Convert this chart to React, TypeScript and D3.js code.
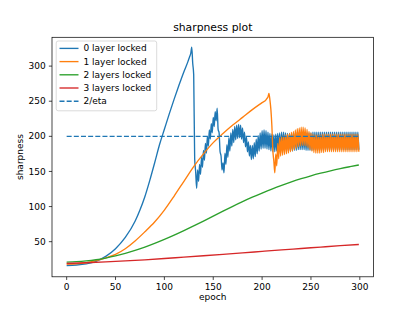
import React from 'react';
import * as d3 from 'd3';

// sharpness per epoch
const blueHead: [number, number][] = [
  [0, 16], [10, 16.8], [20, 18.5], [30, 22], [40, 29], [50, 40], [60, 56], [70, 79],
  [75, 95], [80, 114], [85, 137], [90, 162], [95, 188], [100, 210], [105, 232],
  [110, 253], [115, 273], [120, 292], [124, 306],
];
const BLUE_TAIL_START = 125;
const blueTail = [
  310, 314, 318, 327, 304, 288, 168, 150, 126, 152,
  136, 160, 146, 170, 156, 180, 166, 190, 176, 200,
  186, 209, 196, 218, 205, 227, 214, 235, 222, 240,
  210, 205, 178, 172, 152, 162, 148, 176, 160, 188,
  170, 198, 179, 205, 186, 210, 191, 214, 195, 216,
  197, 217, 198, 216, 196, 212, 191, 206, 185, 199,
  178, 192, 172, 187, 167, 187, 168, 191, 171, 196,
  175, 201, 179, 205, 182, 208, 183, 209, 183, 208,
  182, 206, 181, 204, 179, 203, 178, 202, 178, 203,
  179, 204, 180, 205, 180, 206, 181, 206, 181, 205,
  180, 204, 179, 204, 179, 204, 179, 205, 180, 205,
  180, 206, 181, 206, 181, 206, 181, 206, 181, 205,
  180, 205, 180, 205, 180, 205, 180, 206, 181, 206,
  181, 206, 181, 206, 181, 206, 181, 206, 181, 206,
  181, 206, 181, 206, 181, 206, 181, 206, 181, 206,
  181, 206, 181, 206, 181, 206, 181, 206, 181, 206,
  181, 206, 181, 206, 181, 206, 181, 206, 181, 206,
  181, 206, 181, 206, 181,
];

const orangeHead: [number, number][] = [
  [0, 18], [10, 18.5], [20, 20], [30, 23], [40, 27], [50, 32], [60, 40], [70, 51],
  [80, 64], [90, 78], [100, 95], [110, 115], [120, 136], [130, 157], [140, 175],
  [150, 191], [160, 204], [170, 216], [180, 227], [190, 238], [200, 248], [204, 252],
];
const ORANGE_TAIL_START = 205;
const orangeTail = [
  254, 256, 261, 252, 238, 215, 180, 165, 148, 175,
  158, 190, 168, 198, 172, 200, 173, 201, 174, 202,
  175, 203, 176, 204, 178, 206, 179, 207, 181, 209,
  183, 211, 185, 212, 186, 213, 187, 213, 187, 212,
  186, 210, 184, 207, 181, 205, 179, 203, 177, 202,
  176, 202, 176, 202, 176, 202, 177, 203, 177, 203,
  178, 203, 178, 203, 178, 203, 178, 203, 178, 203,
  178, 203, 178, 203, 178, 203, 178, 203, 178, 203,
  178, 203, 178, 203, 178, 203, 178, 203, 178, 203,
  178, 203, 178, 203, 178,
];

const green: [number, number][] = [
  [0, 21], [10, 21.5], [20, 22.6], [30, 24.3], [40, 26.7], [50, 29.7], [60, 33.3],
  [70, 37.5], [80, 42.3], [90, 47.6], [100, 53.3], [110, 59.4], [120, 65.8],
  [130, 72.5], [140, 79.4], [150, 86.4], [160, 93.5], [170, 100.4], [180, 107],
  [190, 113.3], [200, 119.3], [210, 125], [220, 130.3], [230, 135.2], [240, 139.7],
  [250, 143.8], [260, 147.5], [270, 150.9], [280, 154], [290, 156.8], [299, 159.2],
];

const red: [number, number][] = [
  [0, 19], [20, 20], [40, 21.2], [60, 22.6], [80, 24.2], [100, 26], [120, 28],
  [140, 30], [160, 32], [180, 34], [200, 36.2], [220, 38.3], [240, 40.3],
  [260, 42.3], [280, 44.3], [299, 46],
];

const ETA_LEVEL = 200;
const ETA_RANGE = [0, 299];

const xTicks = [0, 50, 100, 150, 200, 250, 300];
const yTicks = [50, 100, 150, 200, 250, 300];

const seriesNames = ['0 layer locked', '1 layer locked', '2 layers locked', '3 layers locked', '2/eta'];
const seriesColors = ['#1f77b4', '#ff7f0e', '#2ca02c', '#d62728', '#1f77b4'];

const W = 415;
const H = 311;
const FONT = 'DejaVu Sans, sans-serif';

function withTail(head: [number, number][], start: number, tail: number[]): [number, number][] {
  return head.concat(tail.map((v, i) => [start + i, v] as [number, number]));
}

export default function App() {
  const margin = { left: 52, right: 373.5, top: 37.3, bottom: 276.8 };

  const x = d3.scaleLinear().domain([-15, 314]).range([margin.left, margin.right]);
  const y = d3.scaleLinear().domain([0, 341]).range([margin.bottom, margin.top]);

  const line = d3.line<[number, number]>()
    .x(d => x(d[0]))
    .y(d => y(d[1]))
    .curve(d3.curveMonotoneX);

  const series: [number, number][][] = [
    withTail(blueHead, BLUE_TAIL_START, blueTail),
    withTail(orangeHead, ORANGE_TAIL_START, orangeTail),
    green,
    red,
  ];
  const etaLine: [number, number][] = [[ETA_RANGE[0], ETA_LEVEL], [ETA_RANGE[1], ETA_LEVEL]];

  const lw = 1.35;
  const tickLen = 3.15;

  return (
    <svg width={W} height={H} style={{ position: 'absolute', left: 0, top: 0, background: '#fff' }}
      fontFamily={FONT}>
      <rect x={0} y={0} width={W} height={H} fill="#fff" />

      <g>
        {series.map((s, i) => (
          <path key={i} d={line(s) || ''} fill="none" stroke={seriesColors[i]}
            strokeWidth={lw} strokeLinejoin="round" />
        ))}
        <path d={line(etaLine) || ''} fill="none" stroke={seriesColors[4]}
          strokeWidth={lw} strokeDasharray="5,2.16" />
      </g>

      {/* spines */}
      <rect x={margin.left} y={margin.top} width={margin.right - margin.left}
        height={margin.bottom - margin.top} fill="none" stroke="#000" strokeWidth={0.72} />

      {/* x axis */}
      {xTicks.map(t => (
        <g key={'x' + t}>
          <line x1={x(t)} x2={x(t)} y1={margin.bottom} y2={margin.bottom + tickLen}
            stroke="#000" strokeWidth={0.72} />
          <text x={x(t)} y={margin.bottom + 13.3} fontSize={9} textAnchor="middle" fill="#000">{t}</text>
        </g>
      ))}
      {/* y axis */}
      {yTicks.map(t => (
        <g key={'y' + t}>
          <line x1={margin.left - tickLen} x2={margin.left} y1={y(t)} y2={y(t)}
            stroke="#000" strokeWidth={0.72} />
          <text x={margin.left - 6.3} y={y(t)} dy="0.34em" fontSize={9} textAnchor="end" fill="#000">{t}</text>
        </g>
      ))}

      <text x={(margin.left + margin.right) / 2} y={300} fontSize={9} textAnchor="middle">epoch</text>
      <text transform={`translate(23,${(margin.top + margin.bottom) / 2}) rotate(-90)`}
        fontSize={9} textAnchor="middle">sharpness</text>
      <text x={(margin.left + margin.right) / 2} y={30.5} fontSize={10.8} textAnchor="middle">sharpness plot</text>

      {/* legend */}
      <g>
        <rect x={56.2} y={41} width={100.5} height={69.8} rx={2} fill="#fff" fillOpacity={0.8}
          stroke="#cccccc" strokeWidth={0.7} />
        {seriesNames.map((name, i) => {
          const cy = 48.4 + i * 13.2;
          return (
            <g key={name}>
              <line x1={59.5} x2={78.5} y1={cy} y2={cy} stroke={seriesColors[i]} strokeWidth={lw}
                strokeDasharray={i === 4 ? '5,2.16' : undefined} />
              <text x={83.5} y={cy} dy="0.34em" fontSize={9} fill="#000">{name}</text>
            </g>
          );
        })}
      </g>
    </svg>
  );
}
